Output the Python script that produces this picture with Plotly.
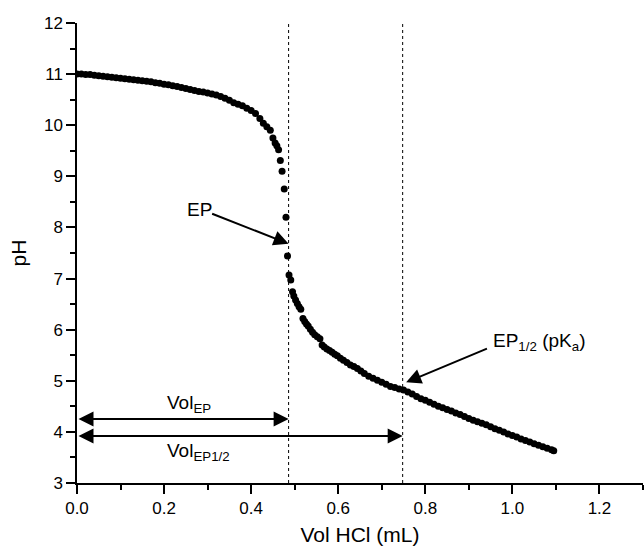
import plotly.graph_objects as go

vol_ml = [0.000, 0.010, 0.020, 0.030, 0.040, 0.050, 0.060, 0.070, 0.080, 0.090,
          0.100, 0.110, 0.120, 0.130, 0.140, 0.150, 0.160, 0.170, 0.180, 0.190,
          0.200, 0.210, 0.220, 0.230, 0.240, 0.250, 0.260, 0.270, 0.280, 0.290,
          0.300, 0.310, 0.320, 0.330, 0.340, 0.350, 0.360, 0.370, 0.380, 0.390,
          0.400, 0.410, 0.420, 0.428, 0.436, 0.444, 0.450, 0.455, 0.459, 0.463,
          0.467, 0.471, 0.476, 0.480, 0.4835, 0.487, 0.491, 0.495, 0.498, 0.502,
          0.506, 0.510, 0.514, 0.519, 0.523, 0.527, 0.531, 0.536, 0.541, 0.546,
          0.552, 0.558, 0.563, 0.568, 0.574, 0.580, 0.586, 0.592, 0.598, 0.605,
          0.612, 0.620, 0.628, 0.636, 0.644, 0.652, 0.660, 0.670, 0.680, 0.690,
          0.700, 0.710, 0.720, 0.730, 0.740, 0.750, 0.760, 0.770, 0.780, 0.790,
          0.800, 0.810, 0.820, 0.830, 0.840, 0.850, 0.860, 0.870, 0.880, 0.890,
          0.900, 0.910, 0.920, 0.930, 0.940, 0.950, 0.960, 0.970, 0.980, 0.990,
          1.000, 1.010, 1.020, 1.030, 1.040, 1.050, 1.060, 1.070, 1.080, 1.090,
          1.095]
ph = [11.00, 11.00, 10.99, 10.99, 10.98, 10.97, 10.96, 10.95, 10.94, 10.93,
      10.92, 10.91, 10.90, 10.89, 10.88, 10.87, 10.86, 10.85, 10.83, 10.82,
      10.80, 10.79, 10.77, 10.76, 10.74, 10.72, 10.70, 10.68, 10.66, 10.65,
      10.63, 10.61, 10.59, 10.56, 10.53, 10.49, 10.44, 10.41, 10.38, 10.33,
      10.29, 10.23, 10.13, 10.04, 9.97, 9.90, 9.75, 9.65, 9.60, 9.52,
      9.31, 9.10, 8.75, 8.20, 7.44, 7.07, 6.97, 6.74, 6.66, 6.58,
      6.51, 6.45, 6.40, 6.22, 6.16, 6.11, 6.07, 6.01, 5.95, 5.90,
      5.86, 5.82, 5.70, 5.66, 5.62, 5.59, 5.56, 5.52, 5.49, 5.44,
      5.40, 5.36, 5.31, 5.28, 5.24, 5.19, 5.14, 5.09, 5.05, 5.01,
      4.97, 4.93, 4.89, 4.87, 4.84, 4.82, 4.78, 4.74, 4.69, 4.65,
      4.62, 4.58, 4.54, 4.50, 4.47, 4.44, 4.41, 4.37, 4.34, 4.30,
      4.26, 4.23, 4.20, 4.17, 4.14, 4.10, 4.06, 4.03, 4.00, 3.96,
      3.93, 3.90, 3.86, 3.83, 3.80, 3.77, 3.74, 3.71, 3.68, 3.65,
      3.63]

vol_ep = 0.486
vol_ep_half = 0.748
ep_ph = 7.68
ep_half_ph = 4.97

x_ticks = [0.0, 0.2, 0.4, 0.6, 0.8, 1.0, 1.2]
x_tick_labels = ["0.0", "0.2", "0.4", "0.6", "0.8", "1.0", "1.2"]
y_ticks = [3, 4, 5, 6, 7, 8, 9, 10, 11, 12]

FONT = "Liberation Sans, Arial, sans-serif"

fig = go.Figure()
fig.add_trace(go.Scatter(
    x=vol_ml, y=ph, mode="markers",
    marker=dict(color="black", size=7, line=dict(width=0)),
    showlegend=False, hoverinfo="skip"))

for xv in [vol_ep, vol_ep_half]:
    fig.add_shape(type="line", xref="x", yref="y", x0=xv, x1=xv, y0=3, y1=12,
                  line=dict(color="black", width=1, dash="dot"))

arrow_style = dict(axref="x", ayref="y", xref="x", yref="y", text="", showarrow=True,
                   arrowhead=2, arrowsize=1.5, arrowwidth=2, arrowcolor="black",
                   standoff=0, startstandoff=0)

annotations = [
    dict(x=vol_ep, y=4.25, ax=0.0, ay=4.25, arrowside="end+start", **arrow_style),
    dict(x=vol_ep_half, y=3.92, ax=0.0, ay=3.92, arrowside="end+start", **arrow_style),
    dict(x=vol_ep, y=ep_ph, ax=0.307, ay=8.28, **arrow_style),
    dict(x=0.756, y=ep_half_ph, ax=0.945, ay=5.64, **arrow_style),
    dict(x=0.282, y=8.36, xref="x", yref="y", text="EP", showarrow=False,
         font=dict(family=FONT, size=19, color="black")),
    dict(x=0.950, y=5.75, xref="x", yref="y", xanchor="left",
         text="EP<sub>1/2</sub> (pK<sub>a</sub>)", showarrow=False,
         font=dict(family=FONT, size=19, color="black")),
    dict(x=0.203, y=4.55, xref="x", yref="y", xanchor="left",
         text="Vol<sub>EP</sub>", showarrow=False,
         font=dict(family=FONT, size=19, color="black")),
    dict(x=0.203, y=3.60, xref="x", yref="y", xanchor="left",
         text="Vol<sub>EP1/2</sub>", showarrow=False,
         font=dict(family=FONT, size=19, color="black")),
]

fig.update_layout(
    width=644, height=549,
    margin=dict(l=77, r=1, t=23, b=66),
    paper_bgcolor="white", plot_bgcolor="white",
    font=dict(family=FONT, size=17, color="black"),
    annotations=annotations,
    xaxis=dict(range=[0, 1.3], tickmode="array", tickvals=x_ticks, ticktext=x_tick_labels,
               ticks="outside", ticklen=9, tickwidth=1.5, tickcolor="black",
               showline=True, linecolor="black", linewidth=1.5, showgrid=False, zeroline=False,
               minor=dict(dtick=0.1, ticks="outside", ticklen=5, tickwidth=1.5, tickcolor="black"),
               title=dict(text="Vol HCl (mL)", font=dict(size=21), standoff=10),
               tickfont=dict(size=17)),
    yaxis=dict(range=[3, 12], tickmode="array", tickvals=y_ticks,
               ticks="outside", ticklen=9, tickwidth=1.5, tickcolor="black",
               showline=True, linecolor="black", linewidth=1.5, showgrid=False, zeroline=False,
               minor=dict(dtick=0.5, ticks="outside", ticklen=5, tickwidth=1.5, tickcolor="black"),
               title=dict(text="pH", font=dict(size=21), standoff=12),
               tickfont=dict(size=17)),
)

fig.write_html("out.html")
